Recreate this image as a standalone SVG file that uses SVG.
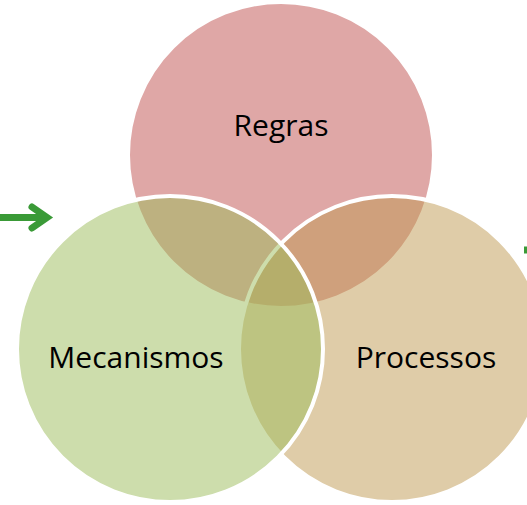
<svg xmlns="http://www.w3.org/2000/svg" width="527" height="505" viewBox="0 0 527 505">
  <style>
    .circle { stroke: #ffffff; stroke-width: 4; fill-opacity: 0.5; }
    .label { font-family: "Open Sans", "Liberation Sans", sans-serif; font-size: 30px; fill: #000000; text-anchor: middle; }
    .conn { fill: none; stroke: #3A9A37; stroke-width: 7; }
  </style>
  <rect width="527" height="505" fill="#ffffff"/>
  <g id="node-regras">
    <circle class="circle" cx="281" cy="155" r="153" fill="#C0504D"/>
    <text class="label" x="281" y="136">Regras</text>
  </g>
  <g id="node-processos">
    <circle class="circle" cx="392" cy="349" r="153" fill="#BF9951"/>
    <text class="label" x="426" y="368">Processos</text>
  </g>
  <g id="node-mecanismos">
    <circle class="circle" cx="170" cy="349" r="153" fill="#9BBB59"/>
    <text class="label" x="136" y="368">Mecanismos</text>
  </g>
  <g id="connectors">
    <path class="conn" d="M0,217.5 H46" stroke-linecap="butt"/>
    <path class="conn" d="M32,207 L47,217.5 L32,228" stroke-linecap="round" stroke-linejoin="miter"/>
    <path class="conn" d="M524,250 H540" stroke-width="6"/>
  </g>
</svg>
